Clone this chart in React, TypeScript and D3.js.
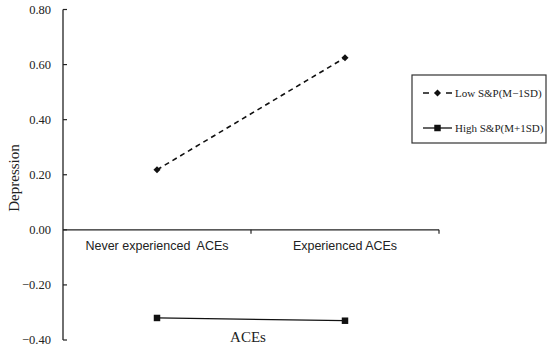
import { useEffect, useRef } from 'react'
import * as d3 from 'd3'

// Categories on the x axis
const categories = ['Never experienced  ACEs', 'Experienced ACEs']

// Simple slopes (Depression)
const lowSP = [0.218, 0.625]
const highSP = [-0.32, -0.33]

const seriesNames = ['Low S&P(M\u22121SD)', 'High S&P(M+1SD)']

const yTicks = [-0.4, -0.2, 0, 0.2, 0.4, 0.6, 0.8]

export default function App() {
  const svgRef = useRef<SVGSVGElement>(null)

  useEffect(() => {
    if (!svgRef.current) return
    const svg = d3.select(svgRef.current)
    svg.selectAll('*').remove()

    const serif = '"Liberation Serif", "Times New Roman", serif'
    const sans = '"Liberation Sans", Arial, sans-serif'

    const x = d3.scaleBand<string>().domain(categories).range([63, 439])
    const y = d3.scaleLinear().domain([-0.4, 0.8]).range([340, 9.5])
    const cx = (c: string) => (x(c) as number) + x.bandwidth() / 2

    const g = svg.append('g')

    // Y axis (ticks point inward)
    g.append('line')
      .attr('x1', 63).attr('x2', 63)
      .attr('y1', y(0.8)).attr('y2', y(-0.4))
      .attr('stroke', '#222').attr('stroke-width', 1.3)

    g.append('g').selectAll('line')
      .data(yTicks)
      .join('line')
      .attr('x1', 63).attr('x2', 67)
      .attr('y1', d => y(d)).attr('y2', d => y(d))
      .attr('stroke', '#222').attr('stroke-width', 1.2)

    g.append('g').selectAll('text')
      .data(yTicks)
      .join('text')
      .attr('x', 51)
      .attr('y', d => y(d))
      .attr('dy', '0.35em')
      .attr('text-anchor', 'end')
      .attr('font-family', serif)
      .attr('font-size', 12.5)
      .attr('fill', '#222')
      .text(d => (d < 0 ? '\u2212' + d3.format('.2f')(-d) : d3.format('.2f')(d)))

    // X axis at zero
    g.append('line')
      .attr('x1', 63).attr('x2', 439)
      .attr('y1', y(0)).attr('y2', y(0))
      .attr('stroke', '#222').attr('stroke-width', 1.3)

    g.append('g').selectAll('line')
      .data(categories)
      .join('line')
      .attr('x1', d => (x(d) as number) + x.bandwidth())
      .attr('x2', d => (x(d) as number) + x.bandwidth())
      .attr('y1', y(0)).attr('y2', y(0) + 4)
      .attr('stroke', '#222').attr('stroke-width', 1.2)

    g.append('g').selectAll('text')
      .data(categories)
      .join('text')
      .attr('x', d => cx(d))
      .attr('y', y(0) + 20)
      .attr('text-anchor', 'middle')
      .attr('font-family', sans)
      .attr('font-size', 12.5)
      .attr('fill', '#222')
      .style('white-space', 'pre')
      .text(d => d)

    // Axis titles
    g.append('text')
      .attr('x', 248).attr('y', 342)
      .attr('text-anchor', 'middle')
      .attr('font-family', serif)
      .attr('font-size', 15)
      .attr('fill', '#222')
      .text('ACEs')

    g.append('text')
      .attr('transform', 'translate(19,178) rotate(-90)')
      .attr('text-anchor', 'middle')
      .attr('font-family', serif)
      .attr('font-size', 15)
      .attr('fill', '#222')
      .text('Depression')

    const line = d3.line<[string, number]>()
      .x(d => cx(d[0]))
      .y(d => y(d[1]))

    const lowPts = categories.map((c, i) => [c, lowSP[i]] as [string, number])
    const highPts = categories.map((c, i) => [c, highSP[i]] as [string, number])

    // Low S&P: dashed with diamonds
    g.append('path')
      .attr('d', line(lowPts))
      .attr('fill', 'none')
      .attr('stroke', '#111')
      .attr('stroke-width', 1.6)
      .attr('stroke-dasharray', '5,4')

    const diamond = d3.symbol().type(d3.symbolDiamond2).size(32)
    const square = d3.symbol().type(d3.symbolSquare).size(42)

    g.append('g').selectAll('path')
      .data(lowPts)
      .join('path')
      .attr('d', diamond())
      .attr('transform', d => `translate(${cx(d[0])},${y(d[1])})`)
      .attr('fill', '#111')

    // High S&P: solid with squares
    g.append('path')
      .attr('d', line(highPts))
      .attr('fill', 'none')
      .attr('stroke', '#111')
      .attr('stroke-width', 1.3)

    g.append('g').selectAll('path')
      .data(highPts)
      .join('path')
      .attr('d', square())
      .attr('transform', d => `translate(${cx(d[0])},${y(d[1])})`)
      .attr('fill', '#111')

    // Legend
    const lg = g.append('g')
    lg.append('rect')
      .attr('x', 412).attr('y', 75)
      .attr('width', 134).attr('height', 68)
      .attr('fill', 'white')
      .attr('stroke', '#333')
      .attr('stroke-width', 1.2)

    const rows = [93, 128]
    lg.append('line')
      .attr('x1', 423).attr('x2', 452)
      .attr('y1', rows[0]).attr('y2', rows[0])
      .attr('stroke', '#111').attr('stroke-width', 1.6)
      .attr('stroke-dasharray', '6,17')
    lg.append('path')
      .attr('d', diamond())
      .attr('transform', `translate(437.5,${rows[0]})`)
      .attr('fill', '#111')
    lg.append('line')
      .attr('x1', 423).attr('x2', 452)
      .attr('y1', rows[1]).attr('y2', rows[1])
      .attr('stroke', '#111').attr('stroke-width', 1.3)
    lg.append('path')
      .attr('d', square())
      .attr('transform', `translate(437.5,${rows[1]})`)
      .attr('fill', '#111')

    lg.selectAll('text.leg')
      .data(seriesNames)
      .join('text')
      .attr('class', 'leg')
      .attr('x', 455)
      .attr('y', (_, i) => rows[i])
      .attr('dy', '0.35em')
      .attr('font-family', serif)
      .attr('font-size', 11)
      .attr('fill', '#222')
      .text(d => d)
  }, [])

  return (
    <svg
      ref={svgRef}
      width={550}
      height={350}
      style={{ position: 'absolute', left: 0, top: 0, background: 'white' }}
    />
  )
}
